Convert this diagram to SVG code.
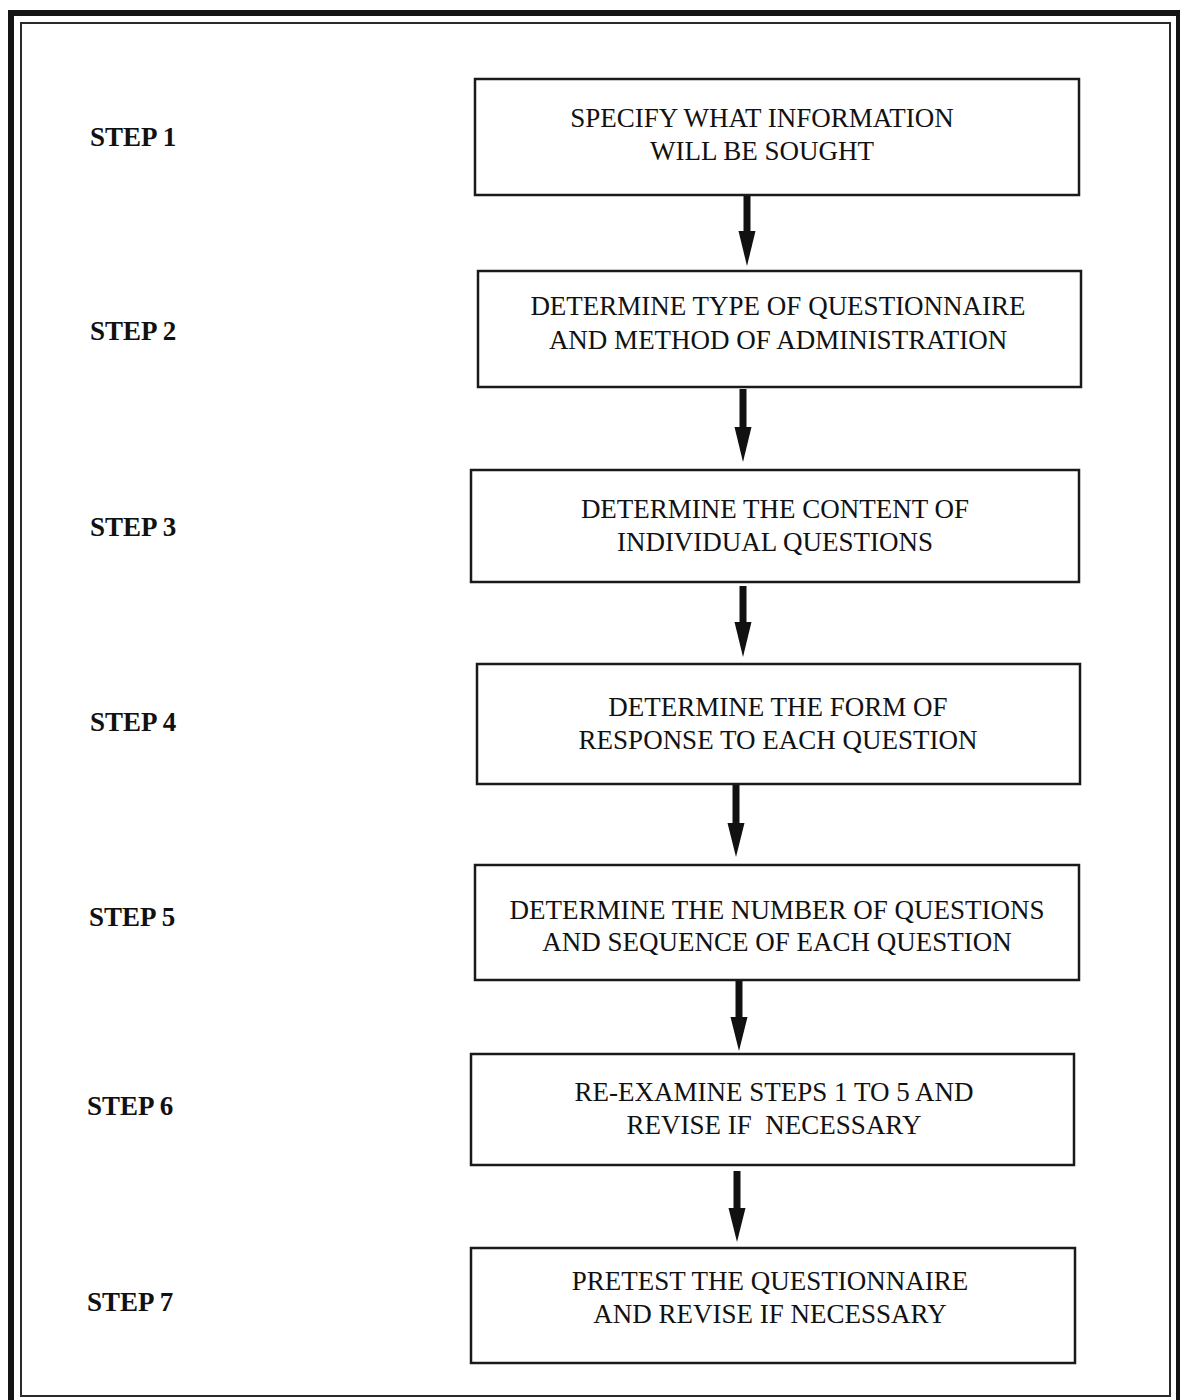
<svg xmlns="http://www.w3.org/2000/svg" width="1180" height="1400" viewBox="0 0 1180 1400">
<defs>
<style>
.frame-outer{fill:none;stroke:#141414;stroke-width:6}
.frame-inner{fill:none;stroke:#2a2a2a;stroke-width:2}
.box{fill:#fff;stroke:#1a1a1a;stroke-width:2.5}
.txt{font-family:"Liberation Serif","Times New Roman",serif;font-size:27px;fill:#111;text-anchor:middle}
.step{font-family:"Liberation Serif","Times New Roman",serif;font-size:27px;font-weight:bold;fill:#111}
.shaft{stroke:#111;stroke-width:7;fill:none}
.head{fill:#111}
</style>
</defs>
<rect width="1180" height="1400" fill="#fff"/>
<path class="frame-outer" d="M11,1400 L11,13 L1179,13 L1179,1400"/>
<rect class="frame-inner" x="21" y="23" width="1149" height="1373"/>

<g id="labels">
<text class="step" x="90" y="146">STEP 1</text>
<text class="step" x="90" y="340">STEP 2</text>
<text class="step" x="90" y="536">STEP 3</text>
<text class="step" x="90" y="731">STEP 4</text>
<text class="step" x="89" y="926">STEP 5</text>
<text class="step" x="87" y="1115">STEP 6</text>
<text class="step" x="87" y="1311">STEP 7</text>
</g>

<g id="node1">
<rect class="box" x="475" y="79" width="604" height="116"/>
<text class="txt" x="762" y="127">SPECIFY WHAT INFORMATION</text>
<text class="txt" x="762" y="160">WILL BE SOUGHT</text>
</g>
<g id="node2">
<rect class="box" x="478" y="271" width="603" height="116"/>
<text class="txt" x="778" y="315">DETERMINE TYPE OF QUESTIONNAIRE</text>
<text class="txt" x="778" y="349">AND METHOD OF ADMINISTRATION</text>
</g>
<g id="node3">
<rect class="box" x="471" y="470" width="608" height="112"/>
<text class="txt" x="775" y="518">DETERMINE THE CONTENT OF</text>
<text class="txt" x="775" y="551">INDIVIDUAL QUESTIONS</text>
</g>
<g id="node4">
<rect class="box" x="477" y="664" width="603" height="120"/>
<text class="txt" x="778" y="716">DETERMINE THE FORM OF</text>
<text class="txt" x="778" y="749">RESPONSE TO EACH QUESTION</text>
</g>
<g id="node5">
<rect class="box" x="475" y="865" width="604" height="115"/>
<text class="txt" x="777" y="919">DETERMINE THE NUMBER OF QUESTIONS</text>
<text class="txt" x="777" y="951">AND SEQUENCE OF EACH QUESTION</text>
</g>
<g id="node6">
<rect class="box" x="471" y="1054" width="603" height="111"/>
<text class="txt" x="774" y="1101">RE-EXAMINE STEPS 1 TO 5 AND</text>
<text class="txt" x="774" y="1134" style="white-space:pre">REVISE IF  NECESSARY</text>
</g>
<g id="node7">
<rect class="box" x="471" y="1248" width="604" height="115"/>
<text class="txt" x="770" y="1290">PRETEST THE QUESTIONNAIRE</text>
<text class="txt" x="770" y="1323">AND REVISE IF NECESSARY</text>
</g>

<g id="connectors">
<line class="shaft" x1="747" y1="196" x2="747" y2="234"/>
<polygon class="head" points="738.5,231 755.5,231 747,266"/>
<line class="shaft" x1="743" y1="389" x2="743" y2="430"/>
<polygon class="head" points="734.5,427 751.5,427 743,462"/>
<line class="shaft" x1="743" y1="586" x2="743" y2="625"/>
<polygon class="head" points="734.5,622 751.5,622 743,657"/>
<line class="shaft" x1="736" y1="785" x2="736" y2="826"/>
<polygon class="head" points="727.5,823 744.5,823 736,857"/>
<line class="shaft" x1="739" y1="981" x2="739" y2="1020"/>
<polygon class="head" points="730.5,1017 747.5,1017 739,1051"/>
<line class="shaft" x1="737" y1="1171" x2="737" y2="1211"/>
<polygon class="head" points="728.5,1208 745.5,1208 737,1242"/>
</g>
</svg>
